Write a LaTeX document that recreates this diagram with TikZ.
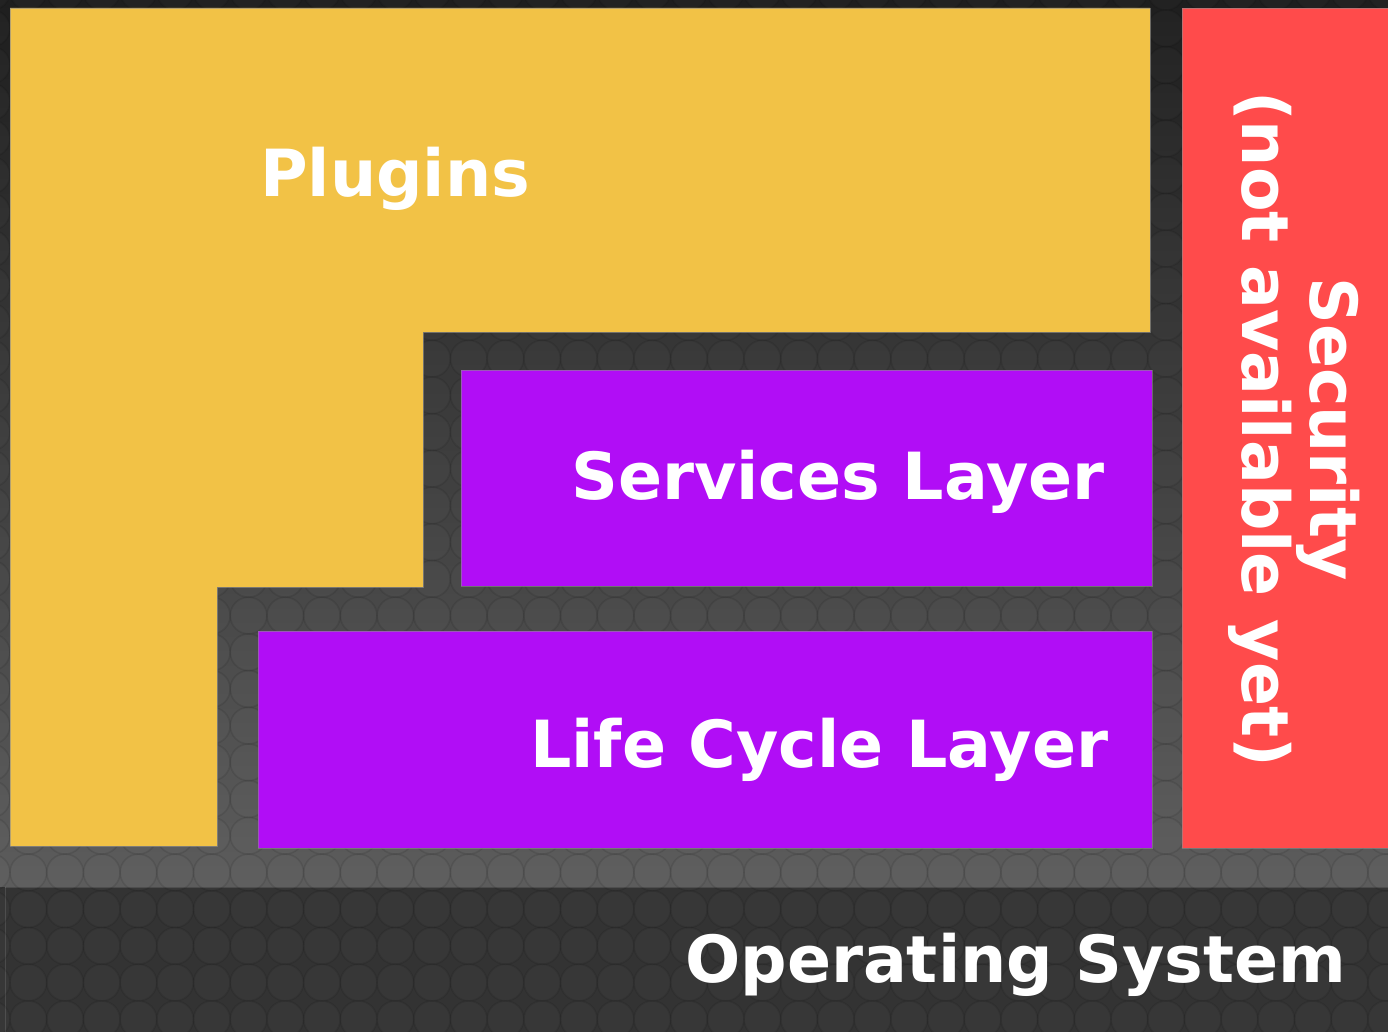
\documentclass[tikz,border=0pt]{standalone}
\usepackage{fontspec}
\setmainfont{DejaVu Sans}
\begin{document}
\begin{tikzpicture}[x=1pt,y=-1pt,
  layertext/.style={font=\fontsize{65}{68}\selectfont\bfseries, text=white, inner sep=0pt},
  layerbox/.style={draw=white!55!black, draw opacity=0.6, line width=0.8pt},
  tile/.style={draw=black, draw opacity=0.09, line width=1.6pt, fill=white, fill opacity=0.02}]
\definecolor{pluginyellow}{HTML}{F2C246}
\definecolor{layerpurple}{HTML}{B10DF6}
\definecolor{securityred}{HTML}{FF4B4B}
\definecolor{bgtop}{HTML}{1E1E1E}
\definecolor{bgbottom}{HTML}{5C5C5C}
\definecolor{osgray}{HTML}{333333}
\useasboundingbox (0,0) rectangle (1388,1032);

% backdrop: vertical gradient and the operating-system band
\shade[top color=bgtop, bottom color=bgbottom] (0,0) rectangle (1388,887);
\fill[osgray] (0,887) rectangle (1388,1032);
\draw[white, opacity=0.12, line width=0.8pt] (5,887) -- (1388,887);
\draw[white, opacity=0.12, line width=0.8pt] (5,887) -- (5,1032);

% tiled circle texture
\begin{scope}
  \clip (0,0) rectangle (1388,1032);
  \foreach \i in {-1,...,38} {
    \foreach \j in {-1,...,28} {
      \draw[tile] ({28.35+36.7*\i},{28.35+36.7*\j}) circle (18.35);
    }
  }
\end{scope}

% plugins (L-shaped)
\draw[layerbox, fill=pluginyellow]
  (10,8) -- (1150,8) -- (1150,332) -- (423,332) -- (423,587)
  -- (217,587) -- (217,846) -- (10,846) -- cycle;

% framework layers
\draw[layerbox, fill=layerpurple] (461,370) rectangle (1152,586);
\draw[layerbox, fill=layerpurple] (258,631) rectangle (1152,848);

% security column
\draw[layerbox, fill=securityred] (1182,8) rectangle (1395,848);

% labels
\node[layertext, anchor=base west] (plugins) at (260,197) {Plugins};
\node[layertext, anchor=base west] (services) at (571,499) {Services Layer};
\node[layertext, anchor=base west] (lifecycle) at (530,767) {Life Cycle Layer};
\node[layertext, anchor=base west] (os) at (685,982) {Operating System};
\node[layertext, align=center, rotate=-90] (security) at (1294,429)
  {Security\\(not available yet)};
\end{tikzpicture}
\end{document}
